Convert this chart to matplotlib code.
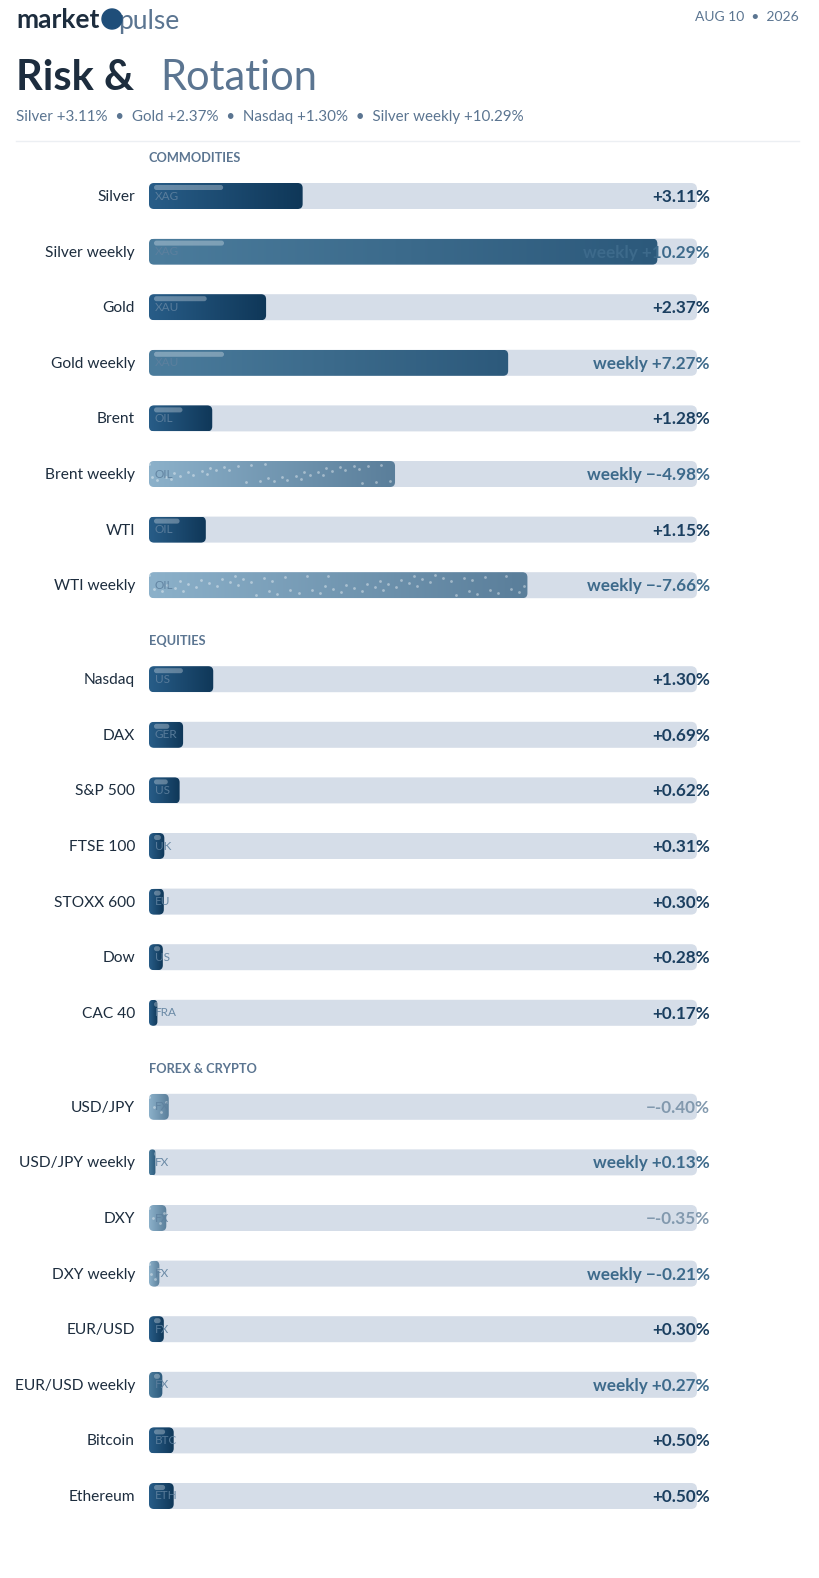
import numpy as np
import matplotlib.pyplot as plt
from matplotlib.patches import FancyBboxPatch, Circle
from matplotlib.colors import LinearSegmentedColormap

plt.rcParams['font.family'] = ['Lato', 'DejaVu Sans']

W, H = 820, 1578

# ---- data ----
sections = ['COMMODITIES', 'EQUITIES', 'FOREX & CRYPTO']

commod_labels = ['Silver', 'Silver weekly', 'Gold', 'Gold weekly',
                 'Brent', 'Brent weekly', 'WTI', 'WTI weekly']
commod_values = [3.11, 10.29, 2.37, 7.27, 1.28, -4.98, 1.15, -7.66]
commod_tickers = ['XAG', 'XAG', 'XAU', 'XAU', 'OIL', 'OIL', 'OIL', 'OIL']

equity_labels = ['Nasdaq', 'DAX', 'S&P 500', 'FTSE 100', 'STOXX 600', 'Dow', 'CAC 40']
equity_values = [1.30, 0.69, 0.62, 0.31, 0.30, 0.28, 0.17]
equity_tickers = ['US', 'GER', 'US', 'UK', 'EU', 'US', 'FRA']

fx_labels = ['USD/JPY', 'USD/JPY weekly', 'DXY', 'DXY weekly',
             'EUR/USD', 'EUR/USD weekly', 'Bitcoin', 'Ethereum']
fx_values = [-0.40, 0.13, -0.35, -0.21, 0.30, 0.27, 0.50, 0.50]
fx_tickers = ['FX', 'FX', 'FX', 'FX', 'FX', 'FX', 'BTC', 'ETH']

headline = ['Silver +3.11%', 'Gold +2.37%', 'Nasdaq +1.30%', 'Silver weekly +10.29%']

groups = [(commod_labels, commod_values, commod_tickers),
          (equity_labels, equity_values, equity_tickers),
          (fx_labels, fx_values, fx_tickers)]

# ---- colours ----
DARK = '#1d2d3e'
MUTED = '#5b7591'
TRACK = '#d5dde8'
cm_daily = LinearSegmentedColormap.from_list('daily', ['#285d88', '#0f3758'])
cm_weekly = LinearSegmentedColormap.from_list('weekly', ['#4b7c9c', '#2c597b'])
cm_neg = LinearSegmentedColormap.from_list('neg', ['#8cb1ca', '#5a7e9a'])

fig = plt.figure(figsize=(W / 100, H / 100), dpi=100)

BX0, BX1 = 149, 697
axb = fig.add_axes([BX0 / W, 0, (BX1 - BX0) / W, 1])
axb.axis('off')
XMAX = max(abs(v) for g in groups for v in g[1]) * 1.078
S = (BX1 - BX0) / XMAX   # pixels per percent
BH = 26

# text layer on top of the bars
ax = fig.add_axes([0, 0, 1, 1])
ax.set_xlim(0, W)
ax.set_ylim(H, 0)
ax.axis('off')
ax.set_zorder(5)
ax.patch.set_visible(False)

# ---- header ----
ax.text(16, 20, 'market', fontsize=19, fontweight='bold', color=DARK, va='center')
ax.add_patch(Circle((112, 19), 10, color='#1f4e79', zorder=3))
ax.text(118, 21, 'pulse', fontsize=19, color=MUTED, va='center', zorder=2)
ax.text(799, 17, 'AUG 10  \u2022  2026', fontsize=10, color=MUTED, ha='right', va='center')
ax.text(16, 78, 'Risk &', fontsize=30, fontweight='bold', color=DARK, va='center')
ax.text(160, 78, 'Rotation', fontsize=30, color=MUTED, va='center')
ax.text(16, 117, '  \u2022  '.join(headline), fontsize=10.9, color=MUTED, va='center')
ax.plot([16, 799], [141, 141], color='#eceff3', lw=1)


def rounded(x, y, w, h, r, **kw):
    r = min(r, w * S / 2, h / 2)
    return FancyBboxPatch((x, y), w, h, boxstyle=f'round,pad=0,rounding_size={r / S}',
                          mutation_aspect=S, **kw)


y = 158
for sec, (labels, values, tickers) in zip(sections, groups):
    ax.text(149, y, sec, fontsize=9.2, fontweight='bold', color=MUTED, va='center')
    y += 38
    for lab, v, tk in zip(labels, values, tickers):
        weekly = 'weekly' in lab
        w = abs(v)
        top = y - BH / 2
        axb.add_patch(rounded(0, top, XMAX, BH, 6, color=TRACK, lw=0, zorder=1))
        bar = rounded(0, top, w, BH, 5, facecolor='none', lw=0, zorder=2)
        axb.add_patch(bar)
        cmap = cm_neg if v < 0 else (cm_weekly if weekly else cm_daily)
        im = axb.imshow(np.linspace(0, 1, 256)[None, :], cmap=cmap, aspect='auto',
                        extent=(0, w, y + BH / 2, top), zorder=2, interpolation='bilinear')
        im.set_clip_path(bar)
        wpx = w * S
        if v < 0:
            n = max(4, int(wpx / 6))
            k = np.arange(n)
            dx = ((k * 0.618034) % 1) * w
            dy = top + 3 + ((k * 0.7548777) % 1) * (BH - 6)
            sc = axb.scatter(dx, dy, s=4, color='white', alpha=0.4, lw=0, zorder=3)
            sc.set_clip_path(bar)
        else:
            hw = min(0.45 * wpx, 70) / S
            hl = rounded(5 / S, top + 2, max(hw, 5 / S), 5, 2.5, color='white',
                         alpha=0.3, lw=0, zorder=3)
            axb.add_patch(hl)
            hl.set_clip_path(bar)
        ax.text(155, y, tk, fontsize=8.5, color='#5e809e', va='center', alpha=0.9)
        ax.text(135, y + 1, lab, fontsize=11.2, color=DARK, ha='right', va='center')
        sign = '+' if v >= 0 else '\u2212-'
        txt = f'{sign}{abs(v):.2f}%'
        if weekly:
            txt, col = 'weekly ' + txt, '#3d6a8b'
        else:
            col = '#1b3f60' if v >= 0 else '#8299ae'
        ax.text(710, y + 1, txt, fontsize=12.3, fontweight='bold', color=col,
                ha='right', va='center')
        y += 55.6
    y += 56 - 55.6

axb.set_xlim(0, XMAX)
axb.set_ylim(H, 0)

fig.savefig('out.png', dpi=100, facecolor='white')
